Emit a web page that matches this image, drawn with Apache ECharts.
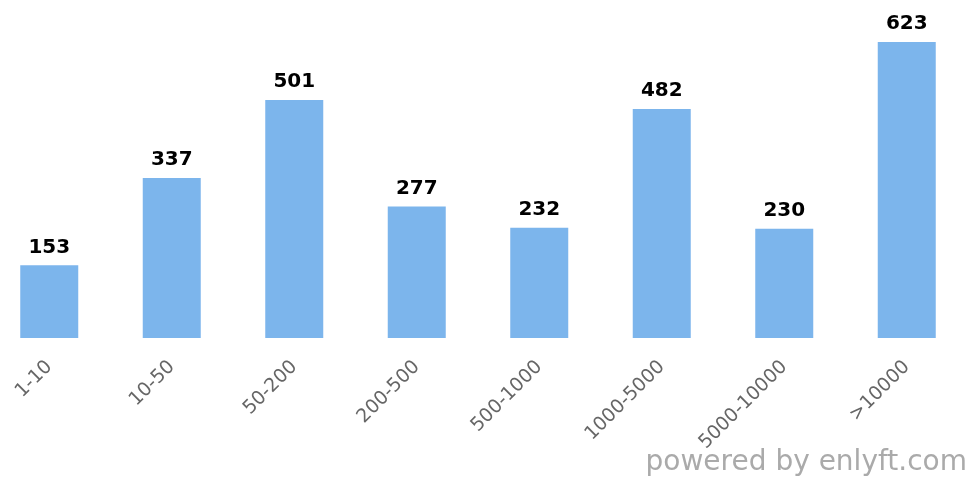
<!DOCTYPE html>
<html>
<head>
<meta charset="utf-8">
<script src="https://cdn.jsdelivr.net/npm/echarts@6/dist/echarts.min.js"></script>
<style>
  html, body { margin: 0; padding: 0; background: #fff; }
  #chart { width: 973px; height: 479px; }
</style>
</head>
<body>
<div id="chart"></div>
<script>
const categories = ['1-10', '10-50', '50-200', '200-500', '500-1000', '1000-5000', '5000-10000', '>10000']
const values = [153, 337, 501, 277, 232, 482, 230, 623]

const chart = echarts.init(document.getElementById('chart'))
chart.setOption({
  animation: false,
  grid: { left: -12, right: 5, top: 42, bottom: 141, containLabel: false, outerBoundsMode: 'none' },
  xAxis: {
    type: 'category', data: categories,
    axisLine: { show: false }, axisTick: { show: false },
    axisLabel: {
      rotate: 45, interval: 0, margin: 26,
      color: '#666', fontSize: 19, fontFamily: 'DejaVu Sans',
    },
  },
  yAxis: {
    type: 'value', min: 0, max: 623,
    show: false, splitLine: { show: false },
  },
  series: [{
    type: 'bar', data: values, barWidth: 58,
    itemStyle: { color: '#7cb5ec' },
    label: {
      show: true, position: 'top', distance: 8,
      color: '#000', fontSize: 20, fontWeight: 'bold', fontFamily: 'DejaVu Sans',
    },
  }],
  graphic: [{
    type: 'text', right: 6, bottom: 2,
    style: { text: 'powered by enlyft.com', fill: '#aaa', fontSize: 28, fontFamily: 'DejaVu Sans' },
  }],
})
</script>
</body>
</html>
